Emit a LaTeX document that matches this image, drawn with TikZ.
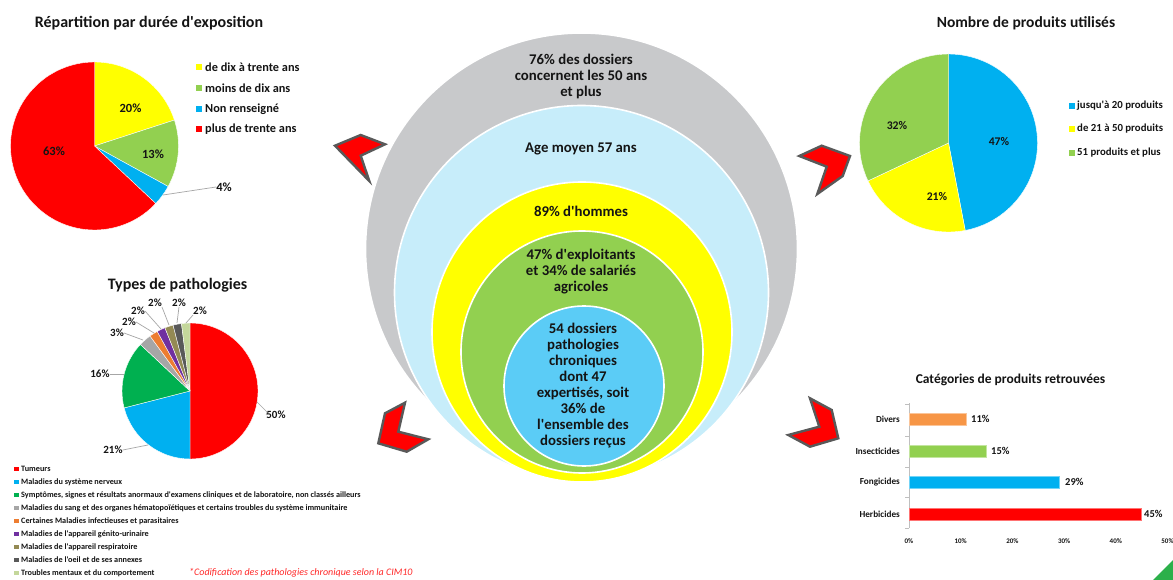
\documentclass[tikz,border=0pt]{standalone}
\usepackage{fontspec}
\setmainfont{Carlito}[Ligatures=TeXOff]
\definecolor{cgray}{RGB}{200,201,203}
\definecolor{clblue}{RGB}{199,237,250}
\definecolor{cyel}{RGB}{255,255,0}
\definecolor{cgreen}{RGB}{146,208,80}
\definecolor{cblue}{RGB}{91,204,246}
\definecolor{pblue}{RGB}{0,176,240}
\definecolor{pred}{RGB}{255,0,0}
\definecolor{pdkgreen}{RGB}{0,176,80}
\definecolor{pgray}{RGB}{166,166,166}
\definecolor{porange}{RGB}{237,125,49}
\definecolor{ppurple}{RGB}{112,48,160}
\definecolor{polive}{RGB}{148,138,84}
\definecolor{pdark}{RGB}{89,89,89}
\definecolor{plgreen}{RGB}{196,215,155}
\definecolor{borange}{RGB}{247,150,70}
\definecolor{chevline}{RGB}{89,89,89}
\definecolor{cornergreen}{RGB}{44,176,74}
\definecolor{notered}{RGB}{255,40,40}
\definecolor{txt}{RGB}{20,20,20}
\newcommand\pieslice[5]{\fill[#5,draw=white,line width=0.4pt] (#1) -- ++(#2:#4) arc[start angle=#2,end angle=#3,radius=#4] -- cycle;}
\tikzset{
  ring/.style={draw=white,line width=1.6pt},
  ctext/.style={font=\bfseries\fontsize{14.8}{16}\selectfont,align=center,inner sep=0pt,text=txt},
  title/.style={font=\bfseries\fontsize{16}{18}\selectfont,inner sep=0pt,text=txt},
  plabel/.style={font=\bfseries\fontsize{12.5}{14}\selectfont,inner sep=0pt,text=txt},
  slabel/.style={font=\bfseries\fontsize{11}{13}\selectfont,inner sep=0pt,text=txt},
  leg1/.style={font=\bfseries\fontsize{12.3}{14}\selectfont,inner sep=0pt,anchor=west,text=txt},
  leg2/.style={font=\bfseries\fontsize{10.8}{13}\selectfont,inner sep=0pt,anchor=west,text=txt},
  leg3/.style={font=\bfseries\fontsize{8.2}{9}\selectfont,inner sep=0pt,anchor=west,text=txt},
  sq/.style={minimum size=#1,inner sep=0pt,draw=none},
  leader/.style={draw=gray!70,line width=0.7pt},
  chev/.style={fill=red,draw=chevline,line width=2.4pt,line join=miter},
  cat/.style={font=\bfseries\fontsize{9.2}{11}\selectfont,inner sep=0pt,anchor=east,text=txt},
  val/.style={font=\bfseries\fontsize{10.5}{12}\selectfont,inner sep=0pt,anchor=west,text=txt},
  tick/.style={font=\bfseries\fontsize{7}{8}\selectfont,inner sep=0pt,text=txt},
  bar/.style={draw=#1!55!white,line width=0.6pt,fill=#1}
}
\begin{document}
\begin{tikzpicture}[x=1pt,y=-1pt]
\useasboundingbox[fill=white] (0,0) rectangle (1173,580);

% ---------------- central circles ----------------
\fill[cgray,ring] (581.5,249) circle[radius=216];
\fill[clblue,ring] (581.5,292.5) circle[radius=187];
\fill[cyel,ring] (582,332) circle[radius=150];
\fill[cgreen,ring] (582,352) circle[radius=121];
\fill[cblue,ring] (584,386) circle[radius=80];

\node[ctext] (c1) at (581,76) {76\% des dossiers\\concernent les 50 ans\\et plus};
\node[ctext] (c2) at (581,149) {Age moyen 57 ans};
\node[ctext] (c3) at (581,211) {89\% d'hommes};
\node[ctext] (c4) at (581,272) {47\% d'exploitants\\et 34\% de salariés\\agricoles};
\node[ctext] (c5) at (583,386) {54 dossiers\\pathologies\\chroniques\\dont 47\\expertisés, soit\\36\% de\\l'ensemble des\\dossiers reçus};

% ---------------- chevrons ----------------
\filldraw[chev] (335,145.7) -- (360.7,135) -- (385,144.3) -- (360.7,155.7) -- (369.3,181) -- cycle;
\filldraw[chev] (799.3,156) -- (821.7,145.7) -- (850,156) -- (842.7,176) -- (817.3,194) -- (826.7,166.7) -- cycle;
\filldraw[chev] (405,402.7) -- (385,413.3) -- (378.3,443.3) -- (406.7,451.7) -- (428.3,439.3) -- (398.3,431.7) -- cycle;
\filldraw[chev] (810,398.3) -- (831.7,410) -- (838.3,438.3) -- (810,446.7) -- (788.3,435) -- (819.3,426.7) -- cycle;

% ---------------- pie 1: exposition ----------------
\node[title] (t1) at (149,23) {Répartition par durée d'exposition};
\coordinate (p1) at (94.5,146);
\pieslice{p1}{-90}{-18}{84}{cyel}
\pieslice{p1}{-18}{28.8}{84}{cgreen}
\pieslice{p1}{28.8}{43.2}{84}{pblue}
\pieslice{p1}{43.2}{270}{84}{pred}
\node[plabel] (l20) at (130.5,108) {20\%};
\node[plabel] (l13) at (153,154) {13\%};
\node[plabel] (l63) at (54,151) {63\%};
\node[plabel] (l4) at (224,187) {4\%};
\coordinate (e4) at (163,195);
\draw[leader] (e4) -- (l4.west);
\node[sq=6pt,fill=cyel] (q11) at (199,67) {};
\node[leg1] at (205,67) {de dix à trente ans};
\node[sq=6pt,fill=cgreen] (q12) at (199,88) {};
\node[leg1] at (205,88) {moins de dix ans};
\node[sq=6pt,fill=pblue] (q13) at (199,109) {};
\node[leg1] at (205,109) {Non renseigné};
\node[sq=6pt,fill=pred] (q14) at (199,129) {};
\node[leg1] at (205,129) {plus de trente ans};

% ---------------- pie 2: produits ----------------
\node[title,font=\bfseries\fontsize{15.5}{18}\selectfont] (t2) at (1026,23) {Nombre de produits utilisés};
\coordinate (p2) at (948.5,143);
\pieslice{p2}{-90}{79.2}{89}{pblue}
\pieslice{p2}{79.2}{154.8}{89}{cyel}
\pieslice{p2}{154.8}{270}{89}{cgreen}
\node[slabel,font=\bfseries\fontsize{11.7}{13}\selectfont] (l47) at (999,142) {47\%};
\node[slabel,font=\bfseries\fontsize{11.7}{13}\selectfont] (l21b) at (937,197) {21\%};
\node[slabel,font=\bfseries\fontsize{11.7}{13}\selectfont] (l32) at (897,126) {32\%};
\node[sq=5.5pt,fill=pblue] (q21) at (1072,106) {};
\node[leg2] at (1077,106) {jusqu'à 20 produits};
\node[sq=5.5pt,fill=cyel] (q22) at (1072,129) {};
\node[leg2] at (1077,129) {de 21 à 50 produits};
\node[sq=5.5pt,fill=cgreen] (q23) at (1072,153) {};
\node[leg2] at (1077,153) {51 produits et plus};

% ---------------- pie 3: pathologies ----------------
\node[title] (t3) at (177.5,285) {Types de pathologies};
\coordinate (p3) at (190,391);
\pieslice{p3}{-90}{90}{68}{pred}
\pieslice{p3}{90}{165.6}{68}{pblue}
\pieslice{p3}{165.6}{223.2}{68}{pdkgreen}
\pieslice{p3}{223.2}{234}{68}{pgray}
\pieslice{p3}{234}{241.2}{68}{porange}
\pieslice{p3}{241.2}{248.4}{68}{ppurple}
\pieslice{p3}{248.4}{255.6}{68}{polive}
\pieslice{p3}{255.6}{262.8}{68}{pdark}
\pieslice{p3}{262.8}{270}{68}{plgreen}
\node[slabel] (m50) at (276,415) {50\%};
\node[slabel] (m21) at (113,450) {21\%};
\node[slabel] (m16) at (100,374) {16\%};
\node[slabel] (m3) at (117,333) {3\%};
\node[slabel] (m2a) at (129,322) {2\%};
\node[slabel] (m2b) at (138,311) {2\%};
\node[slabel] (m2c) at (155,303) {2\%};
\node[slabel] (m2d) at (179,303) {2\%};
\node[slabel] (m2e) at (200,311) {2\%};
\coordinate (k50) at (257,402);
\coordinate (k21) at (148,445);
\coordinate (k16) at (124,374);
\coordinate (k3) at (143,340);
\coordinate (k2a) at (154,333);
\coordinate (k2b) at (161,329);
\coordinate (k2c) at (169,325);
\coordinate (k2d) at (177,323);
\coordinate (k2e) at (186,323);
\draw[leader] (k50) -- (267,412) -- (m50.west);
\draw[leader] (k21) -- (m21.east);
\draw[leader] (k16) -- (m16.east);
\draw[leader] (k3) -- (m3.east);
\draw[leader] (k2a) -- (m2a.east);
\draw[leader] (k2b) -- (m2b.east);
\draw[leader] (k2c) -- (m2c.south east);
\draw[leader] (k2d) -- (m2d.south);
\draw[leader] (k2e) -- (m2e.south west);

\foreach \c/\t [count=\i] in {pred/Tumeurs,
 pblue/Maladies du système nerveux,
 pdkgreen/{Symptômes, signes et résultats anormaux d'examens cliniques et de laboratoire, non classés ailleurs},
 pgray/Maladies du sang et des organes hématopoïétiques et certains troubles du système immunitaire,
 porange/Certaines Maladies infectieuses et parasitaires,
 ppurple/Maladies de l'appareil génito-urinaire,
 polive/Maladies de l'appareil respiratoire,
 pdark/Maladies de l'oeil et de ses annexes,
 plgreen/Troubles mentaux et du comportement}{
  \node[sq=4.5pt,fill=\c] (lq\i) at (16.5,{456+13*\i}) {};
  \node[leg3] (lt\i) at (21,{456+13*\i}) {\t};
}
\node[font=\itshape\fontsize{10}{11}\selectfont,text=notered,anchor=west,inner sep=0pt] (note) at (189,573) {*Codification des pathologies chronique selon la CIM10};

% ---------------- bar chart ----------------
\node[title,font=\bfseries\fontsize{13.5}{16}\selectfont] (t4) at (1010.5,380) {Catégories de produits retrouvées};
\draw[gray!50,line width=0.7pt] (909,403) -- (909,528);
\foreach \y in {404,436,467,497,528} \draw[gray!50,line width=0.7pt] (905,\y) -- (909,\y);
\fill[bar=borange] (909,413) rectangle (965.9,425);
\fill[bar=cgreen] (909,445) rectangle (986.6,457);
\fill[bar=pblue] (909,476) rectangle (1058.9,488);
\fill[bar=pred] (909,508) rectangle (1141.7,520);
\node[cat] (b1) at (900,419) {Divers};
\node[cat] (b2) at (900,451) {Insecticides};
\node[cat] (b3) at (900,482) {Fongicides};
\node[cat] (b4) at (900,514) {Herbicides};
\node[val] (v1) at (971,419) {11\%};
\node[val] (v2) at (991,451) {15\%};
\node[val] (v3) at (1065,482) {29\%};
\node[val] (v4) at (1144,514) {45\%};
\foreach \v [count=\i from 0] in {0,10,20,30,40,50}
  \node[tick] (x\i) at ({909+5.17*\v},541) {\v\%};

% corner
\fill[cornergreen] (1153,580) -- (1173,560) -- (1173,580) -- cycle;
\end{tikzpicture}
\end{document}
